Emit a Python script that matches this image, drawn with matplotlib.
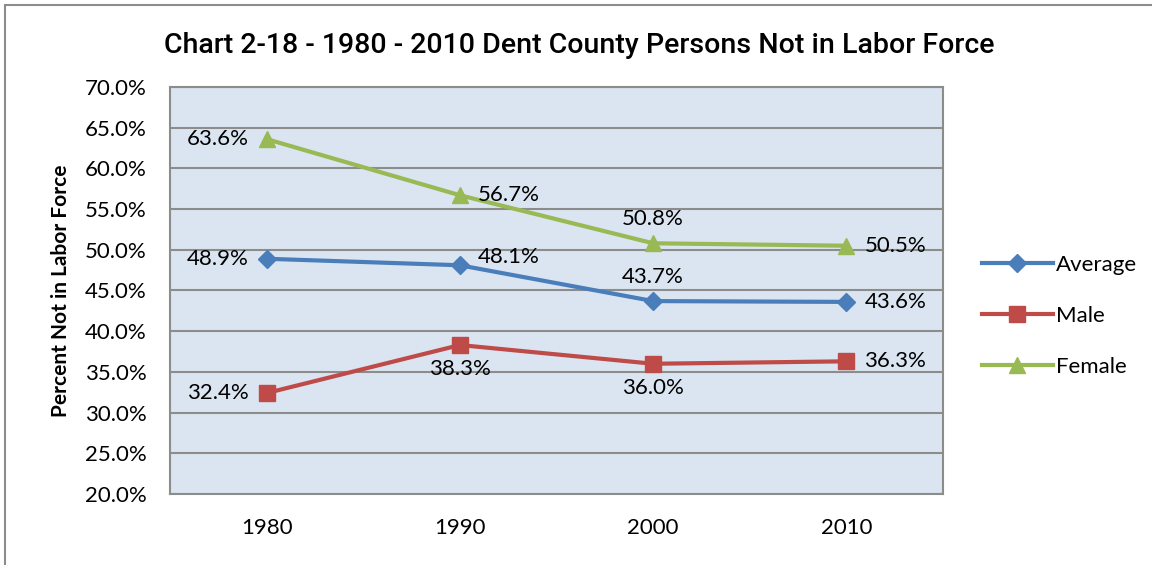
import matplotlib.pyplot as plt
from matplotlib.patches import Rectangle

BLUE = "#4a7ebb"
RED = "#be4b48"
GREEN = "#98b954"
PLOT_BG = "#dbe5f1"
GRID = "#8c8c8c"

years = ["1980", "1990", "2000", "2010"]
average = [48.9, 48.1, 43.7, 43.6]
male = [32.4, 38.3, 36.0, 36.3]
female = [63.6, 56.7, 50.8, 50.5]

# where each data label sits relative to its point
avg_pos = ["left", "right_up", "up", "right"]
male_pos = ["left", "down", "down", "right"]
female_pos = ["left", "right", "up", "right"]

FONT = ["Lato", "DejaVu Sans"]
TITLE_FONT = ["Roboto", "DejaVu Sans"]
plt.rcParams['font.family'] = FONT


def label_points(ax, values, positions):
    offsets = {
        "left": ((-13, 0), "right", "center"),
        "right": ((13, 0), "left", "center"),
        "right_up": ((13, 6), "left", "center"),
        "up": ((0, 10), "center", "bottom"),
        "down": ((0, -10), "center", "top"),
    }
    for i, (v, p) in enumerate(zip(values, positions)):
        off, ha, va = offsets[p]
        ax.annotate("{:.1f}%".format(v), (i, v), xytext=off, textcoords="offset points",
                    ha=ha, va=va, fontsize=16, color="black")


fig = plt.figure(figsize=(11.52, 5.65), dpi=100)
fig.patches.append(Rectangle((5 / 1152, -0.1), 1.2, 1.1 - 5 / 565,
                             transform=fig.transFigure, fill=False,
                             edgecolor="#8c8c8c", linewidth=1.5))
ax = fig.add_axes([170 / 1152, 1 - 494 / 565, 773 / 1152, 407 / 565])
ax.set_facecolor(PLOT_BG)

x = range(len(years))
ax.plot(x, average, color=BLUE, lw=3, marker="D", markersize=9, label="Average", zorder=3)
ax.plot(x, male, color=RED, lw=3, marker="s", markersize=11, label="Male", zorder=3)
ax.plot(x, female, color=GREEN, lw=3, marker="^", markersize=12, label="Female", zorder=3)

label_points(ax, average, avg_pos)
label_points(ax, male, male_pos)
label_points(ax, female, female_pos)

ax.set_xlim(-0.5, len(years) - 0.5)
ax.set_ylim(20, 70)
ax.set_yticks(range(20, 71, 5))
ax.set_yticklabels(["{:.1f}%".format(t) for t in range(20, 71, 5)], fontsize=16)
ax.set_xticks(list(x))
ax.set_xticklabels(years, fontsize=16)
ax.tick_params(axis="x", length=0, pad=17)
ax.tick_params(axis="y", length=0, pad=17)
ax.yaxis.grid(True, color=GRID, linewidth=1.5)
ax.set_axisbelow(True)
for s in ax.spines.values():
    s.set_color(GRID)
    s.set_linewidth(1.5)

ax.set_ylabel("Percent Not in Labor Force", fontsize=15, fontweight="bold", labelpad=10)
fig.text(0.503, 0.92, "Chart 2-18 - 1980 - 2010 Dent County Persons Not in Labor Force",
         ha="center", va="center", fontsize=20.5, fontweight="medium", family=TITLE_FONT)

ax.legend(loc="center left", bbox_to_anchor=(1.05, 0.437), frameon=False, fontsize=16,
          borderaxespad=0, borderpad=0, handlelength=3.2, handletextpad=0.15, labelspacing=1.4)

fig.savefig("out.png", dpi=100)
